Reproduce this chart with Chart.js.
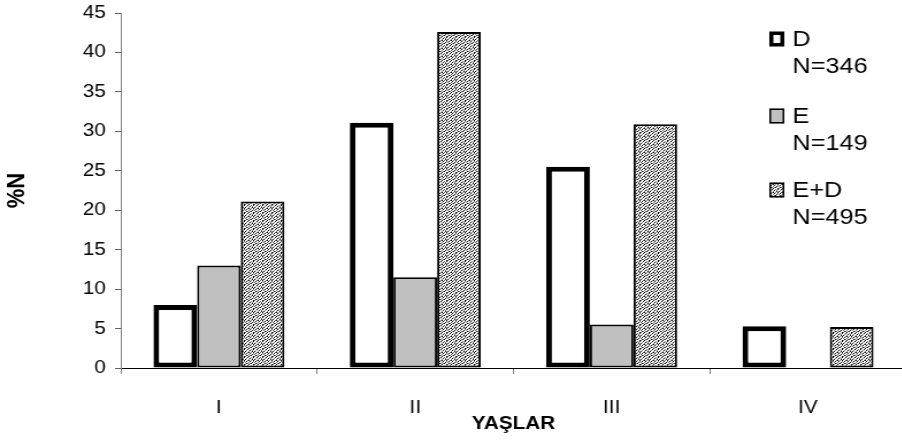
<!DOCTYPE html>
<html>
<head>
<meta charset="utf-8">
<script src="https://cdn.jsdelivr.net/npm/chart.js@4.4.1/dist/chart.umd.min.js"></script>
<style>
  html, body { margin: 0; padding: 0; background: #fff; overflow: hidden; }
  #wrap { width: 792px; height: 441px; transform: scaleX(1.15); transform-origin: 0 0; }
  #c { display: block; width: 792px; height: 441px; }
</style>
</head>
<body>
<div id="wrap"><canvas id="c" width="792" height="441"></canvas></div>
<script>
// ---- data ----
const categories = ['I', 'II', 'III', 'IV'];
const seriesNames = ['D', 'E', 'E+D'];
const seriesN = ['N=346', 'N=149', 'N=495'];
const valuesD = [8, 31.1, 25.5, 5.3];
const valuesE = [13, 11.5, 5.5, 0];
const valuesED = [21.1, 42.6, 30.9, 5.2];
const yTicks = [0, 5, 10, 15, 20, 25, 30, 35, 40, 45];
const yTitle = '%N';
const xTitle = 'YAŞLAR';

const FONT = '"Liberation Sans", Arial, sans-serif';

// stipple pattern tile for E+D (K = black, g = grey)
const PATTERN_ROWS = [
  'K.g.K..g',
  '.K..g.K.',
  'g..K.g..',
  '.gK...Kg',
  'K...Kg..',
  '..g.K..K',
  '.K.g..g.',
  'g..K.K..'
];
function makePattern(ctx) {
  const n = PATTERN_ROWS.length;
  const p = document.createElement('canvas');
  p.width = n; p.height = n;
  const pc = p.getContext('2d');
  pc.fillStyle = '#ffffff';
  pc.fillRect(0, 0, n, n);
  PATTERN_ROWS.forEach((row, y) => {
    [...row].forEach((ch, x) => {
      if (ch === 'K') { pc.fillStyle = '#000000'; pc.fillRect(x, y, 1, 1); }
      else if (ch === 'g') { pc.fillStyle = '#707070'; pc.fillRect(x, y, 1, 1); }
    });
  });
  return ctx.createPattern(p, 'repeat');
}

const canvas = document.getElementById('c');
const ctx = canvas.getContext('2d');
const pattern = makePattern(ctx);

const fills = ['#ffffff', '#c0c0c0', pattern];
const borders = [5, 2, 2];

const legendPlugin = {
  id: 'customLegend',
  afterDatasetsDraw(chart) {
    const c = chart.ctx;
    c.save();
    const ys = [39, 116, 190];
    c.font = '22px ' + FONT;
    c.textBaseline = 'middle';
    seriesNames.forEach((name, i) => {
      const y = ys[i];
      const bw = 13, bh = 15;
      const bx = 669, by = y - bh / 2;
      c.fillStyle = fills[i];
      c.fillRect(bx, by, bw, bh);
      c.strokeStyle = '#000';
      const lw = i === 0 ? 3.5 : 1.5;
      c.lineWidth = lw;
      c.strokeRect(bx + lw / 2, by + lw / 2, bw - lw, bh - lw);
      c.fillStyle = '#000';
      c.fillText(name, 689, y + 1);
      c.fillText(seriesN[i], 689, y + 28);
    });
    c.restore();
  }
};

new Chart(ctx, {
  type: 'bar',
  data: {
    labels: categories,
    datasets: [valuesD, valuesE, valuesED].map((vals, i) => ({
      label: seriesNames[i],
      data: vals,
      backgroundColor: fills[i],
      borderColor: '#000',
      borderWidth: borders[i],
      borderSkipped: false,
      categoryPercentage: 0.667,
      barPercentage: 1.0
    }))
  },
  options: {
    responsive: false,
    animation: false,
    devicePixelRatio: 1,
    layout: { padding: { top: 13, right: 4, left: 0, bottom: 0 } },
    plugins: {
      legend: { display: false },
      tooltip: { enabled: false }
    },
    scales: {
      x: {
        grid: { display: true, drawOnChartArea: false, drawTicks: true, tickLength: 6, color: '#808080', offset: true },
        border: { display: true, color: '#000', width: 1 },
        ticks: { color: '#000', font: { family: FONT, size: 18 }, padding: 23 },
        title: { display: true, text: xTitle, color: '#000', font: { family: FONT, size: 18, weight: 'bold' }, padding: { top: 0, bottom: 6 } },
        afterFit(scale) { scale.height = 73; scale.paddingLeft = 0; scale.paddingRight = 0; }
      },
      y: {
        min: 0, max: 45,
        afterBuildTicks(scale) { scale.ticks = yTicks.map(v => ({ value: v })); },
        grid: { display: true, drawOnChartArea: false, drawTicks: true, tickLength: 5, color: '#606060' },
        border: { display: true, color: '#808080', width: 1 },
        ticks: { color: '#000', font: { family: FONT, size: 18 }, padding: 8 },
        title: { display: true, text: yTitle, color: '#000', font: { family: FONT, size: 22, weight: 'bold' }, padding: { top: 2, bottom: 0 } },
        afterFit(scale) { scale.width = 105; scale.paddingTop = 0; scale.paddingBottom = 0; }
      }
    }
  },
  plugins: [legendPlugin]
});
</script>
</body>
</html>
